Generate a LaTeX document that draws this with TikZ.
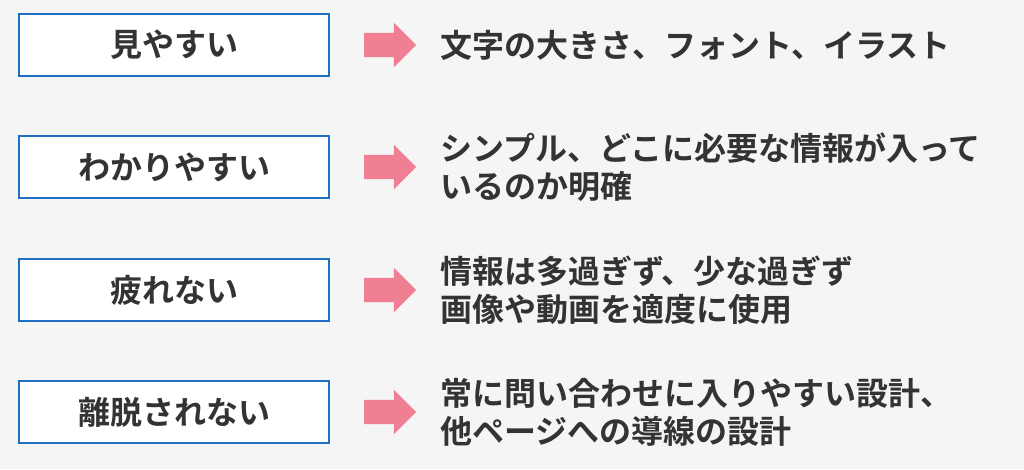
\documentclass[tikz,border=0pt]{standalone}
\usepackage{fontspec}
\setmainfont{Noto Sans CJK JP Bold}
\usetikzlibrary{shapes.arrows,positioning}
\definecolor{boxblue}{HTML}{1F6FC5}
\definecolor{arrowpink}{HTML}{F07F93}
\definecolor{textgray}{HTML}{333333}
\definecolor{bggray}{HTML}{F5F5F5}
\tikzset{
  keybox/.style={draw=boxblue,line width=2pt,fill=white,minimum width=310pt,minimum height=62pt,font=\fontsize{32}{36}\selectfont,text=textgray},
  pinkarrow/.style={single arrow,fill=arrowpink,minimum height=52pt,text height=12pt,text depth=12pt,single arrow head extend=10pt,inner sep=0pt},
  desc/.style={anchor=west,align=left,font=\fontsize{32}{38}\selectfont,text=textgray,inner sep=0pt}
}
\begin{document}
\begin{tikzpicture}[x=1pt,y=-1pt]
\fill[bggray] (0,0) rectangle (1024,469);
\useasboundingbox (0,0) rectangle (1024,469);
% rows
\node[keybox] (k1) at (174,45) {見やすい};
\node[keybox] (k2) at (174,167) {わかりやすい};
\node[keybox] (k3) at (174,290) {疲れない};
\node[keybox] (k4) at (174,412) {離脱されない};
\node[pinkarrow] (a1) at (384,45) {};
\node[pinkarrow] (a2) at (384,167) {};
\node[pinkarrow] (a3) at (384,290) {};
\node[pinkarrow] (a4) at (384,412) {};
\node[desc] (d1) at (440,45) {文字の大きさ、フォント、イラスト};
\node[desc] (d2) at (440,167) {シンプル、どこに必要な情報が入って\\いるのか明確};
\node[desc] (d3) at (440,290) {情報は多過ぎず、少な過ぎず\\画像や動画を適度に使用};
\node[desc] (d4) at (440,412) {常に問い合わせに入りやすい設計、\\他ページへの導線の設計};
\end{tikzpicture}
\end{document}
